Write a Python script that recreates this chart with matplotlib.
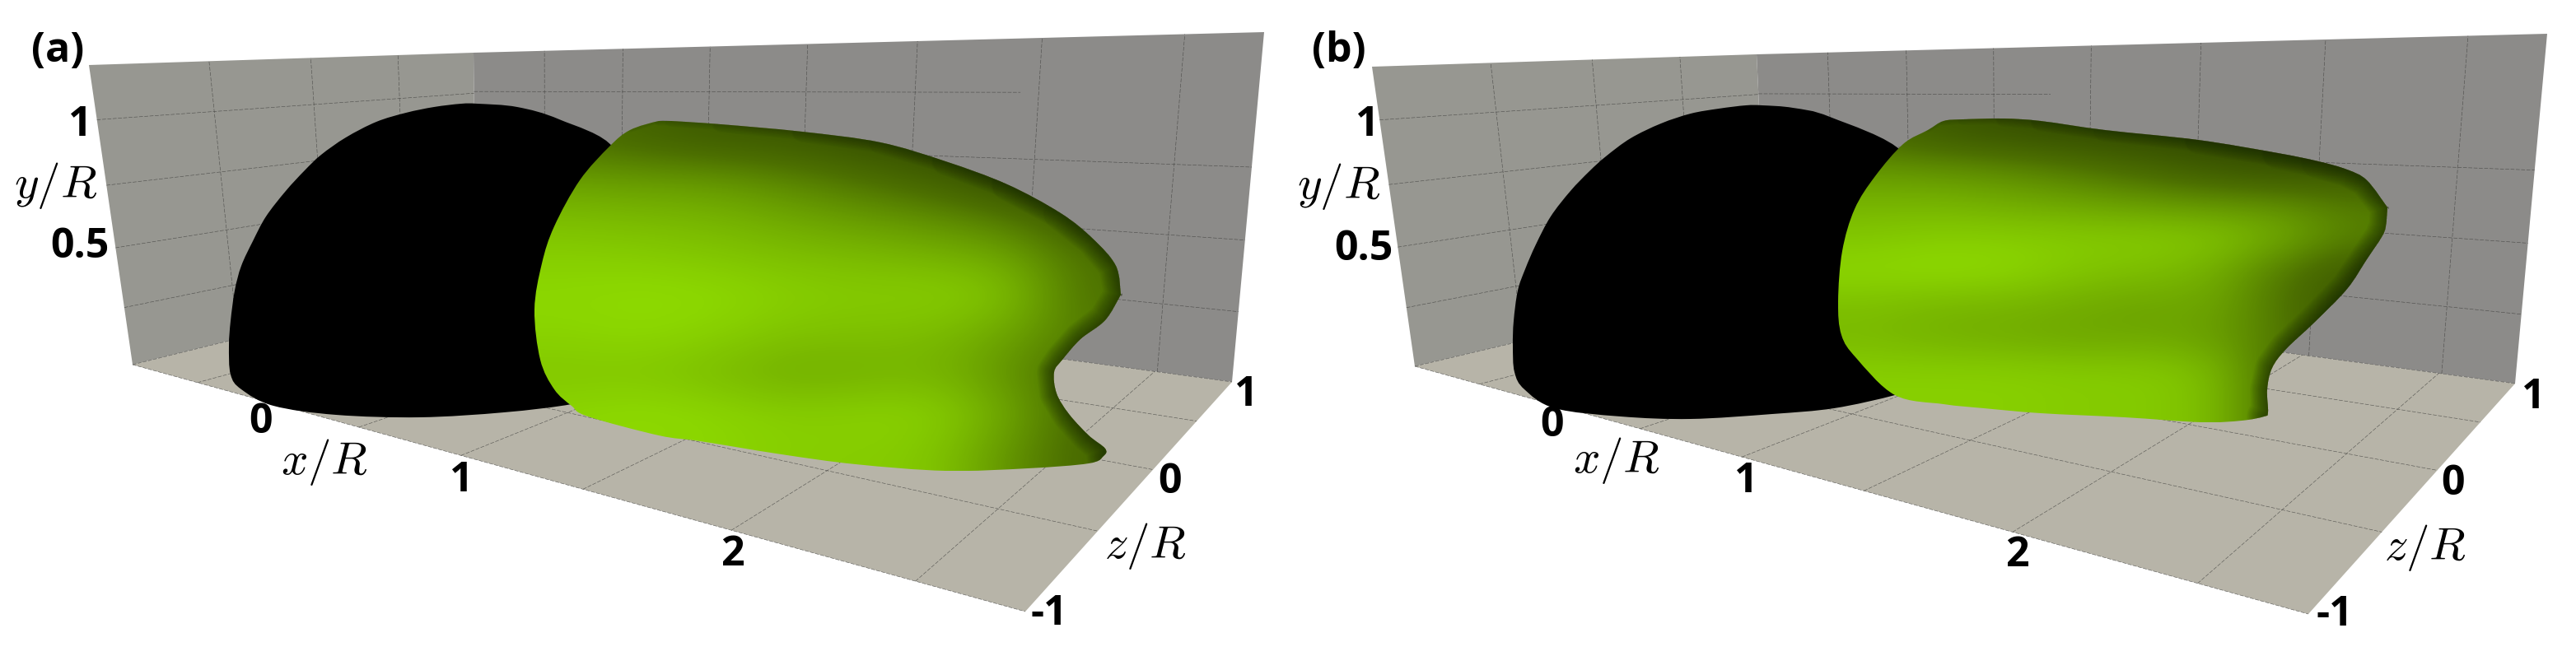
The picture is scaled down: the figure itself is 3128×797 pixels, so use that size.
import matplotlib
matplotlib.use("Agg")
import matplotlib.pyplot as plt
import numpy as np
from matplotlib.colors import LinearSegmentedColormap
from matplotlib.patches import PathPatch, Polygon
from matplotlib.path import Path

plt.rcParams["font.family"] = ["Open Sans", "DejaVu Sans"]
plt.rcParams["mathtext.fontset"] = "cm"

# axis values of the box and of its grid
X_RANGE = [-1.0, 2.75]
Y_RANGE = [0.0, 1.2]
Z_RANGE = [-1.0, 1.0]
X_GRID = [-0.5, 0.0, 0.5, 1.0, 1.5, 2.0, 2.5]
Y_GRID = [0.25, 0.5, 0.75, 1.0]
Z_GRID = [-0.5, 0.0, 0.5]

# box corners in picture pixels: top left, floor left, fold top, fold floor,
# top right, floor right, floor front
BOX_A = [(108, 79), (161, 443), (575, 64), (578, 340), (1535, 39), (1496, 464), (1245, 743)]
BOX_B = [(1666, 81), (1718, 445), (2133, 66), (2146, 344), (3093, 41), (3054, 466), (2803, 746)]
Y1_END = [1.93, 0.8]  # the y=1 line on the back wall stops here

# dome outlines (the right end is hidden behind the surface)
DOME_A_X = [278, 280, 293, 332, 408, 510, 612, 694, 722, 748, 752, 745, 679, 628, 580, 560, 527, 493, 457, 420, 390,
            370, 347, 323, 307, 293, 285, 280]
DOME_A_Y = [420, 455, 473, 493, 504, 507, 501, 491, 480, 400, 250, 180, 145, 130, 126, 126, 130, 137, 148, 167, 188,
            207, 232, 263, 293, 323, 353, 390]
DOME_B_X = [1837, 1839, 1851, 1888, 1968, 2053, 2152, 2227, 2301, 2332, 2315, 2315, 2310, 2222, 2177, 2140, 2120, 2087,
            2053, 2017, 1980, 1950, 1930, 1907, 1883, 1865, 1852, 1843, 1838]
DOME_B_Y = [420, 452, 473, 496, 506, 509, 503, 496, 480, 468, 400, 250, 185, 142, 131, 128, 128, 132,
            138, 150, 168, 190, 208, 232, 263, 297, 327, 353, 390]

# surface outlines
SURF_A_X = [800, 765, 740, 704, 673, 658, 649, 656, 673, 694, 714, 800, 850, 949, 1039, 1148, 1248, 1322, 1340, 1342,
            1322, 1298, 1283, 1280, 1290, 1312, 1342, 1361, 1361, 1355, 1327, 1288, 1223, 1148, 1069, 974, 875, 815]
SURF_A_Y = [147, 158, 178, 219, 275, 320, 376, 437, 473, 493, 506, 529, 536, 552, 564, 572, 569, 563, 554, 545,
            529, 503, 478, 452, 437, 412, 389, 358, 358, 323, 290, 259, 224, 196, 173, 160, 151, 147]
SURF_B_X = [2360, 2341, 2311, 2277, 2252, 2237, 2232, 2236, 2254, 2301, 2360, 2409, 2478, 2580, 2673, 2722, 2749, 2754,
            2753, 2759, 2776, 2811, 2850, 2874, 2892, 2897, 2899, 2899, 2874, 2850, 2815, 2766, 2669, 2556, 2478, 2433, 2384]
SURF_B_Y = [147, 158, 175, 214, 254, 305, 366, 407, 435, 480, 491, 496, 502, 507, 513, 511, 506, 501,
            473, 447, 424, 391, 351, 315, 288, 275, 252, 252, 219, 206, 196, 186, 170, 158, 147, 144, 145]
RIM_START = [18, 16]

# brightness of the surface, rows top to bottom, columns left to right
SHADE_A = [
    [.50, .42, .36, .34, .28, .22, .20, .20],
    [.72, .70, .68, .60, .50, .40, .25, .20],
    [.86, .84, .82, .76, .70, .64, .54, .34],
    [.94, .93, .90, .87, .85, .82, .76, .50],
    [.98, 1.0, .99, .94, .92, .94, .88, .50],
    [.96, .98, .94, .88, .87, .85, .74, .55],
    [.90, .90, .85, .78, .80, .82, .66, .44],
    [.97, 1.0, .97, .93, .95, .95, .76, .44],
    [.97, .97, .97, .93, .93, .90, .66, .44],
]
SHADE_B = [
    [.46, .36, .30, .26, .24, .22, .22, .22],
    [.68, .66, .62, .54, .44, .34, .28, .32],
    [.82, .82, .78, .74, .70, .66, .64, .54],
    [.90, .93, .93, .92, .92, .90, .78, .58],
    [.98, 1.0, .98, .90, .87, .80, .54, .34],
    [.87, .83, .82, .78, .74, .76, .50, .34],
    [.84, .80, .78, .75, .76, .72, .54, .34],
    [.94, .94, .94, .92, .92, .86, .44, .34],
    [.94, .94, .94, .92, .92, .86, .44, .34],
]

# text: label, x, y in picture pixels
TICKS_A = [("1", 97, 152), ("0.5", 97, 300), ("0", 316, 513), ("1", 560, 584), ("2", 889, 674),
           ("1", 1513, 480), ("0", 1421, 586), ("-1", 1274, 746)]
TICKS_B = [("1", 1660, 152), ("0.5", 1656, 303), ("0", 1885, 517), ("1", 2120, 585), ("2", 2449, 675),
           ("1", 3076, 483), ("0", 2978, 588), ("-1", 2835, 747)]
NAMES_A = [("(a)", 70, 62), ("$y/R$", 68, 225), ("$x/R$", 394, 562), ("$z/R$", 1391, 663)]
NAMES_B = [("(b)", 1626, 62), ("$y/R$", 1626, 226), ("$x/R$", 1963, 559), ("$z/R$", 2945, 666)]

GREENS = LinearSegmentedColormap.from_list("surf", ["#1c2800", "#4c6f00", "#8fdc00"])
GRID_KW = dict(color="#3c3c3a", lw=0.42, alpha=0.8, ls=(0, (8, 3)), zorder=3)


def fit_plane(src, dst):
    """Homography from four (u, v) axis points to four picture points."""
    rows, rhs = [], []
    for (u, v), (px, py) in zip(src, dst):
        rows.append([u, v, 1, 0, 0, 0, -u * px, -v * px])
        rows.append([0, 0, 0, u, v, 1, -u * py, -v * py])
        rhs += [px, py]
    return np.append(np.linalg.solve(np.array(rows, float), np.array(rhs, float)), 1).reshape(3, 3)


def project(h, u, v):
    w = h @ np.array([u, v, 1.0])
    return w[0] / w[2], w[1] / w[2]


def grid_line(ax, h, p0, p1):
    a, b = project(h, *p0), project(h, *p1)
    ax.plot([a[0], b[0]], [a[1], b[1]], **GRID_KW)


def smooth_path(xs, ys):
    """Closed cubic outline that passes through every read point."""
    pts = np.column_stack([xs, ys]).astype(float)
    n = len(pts)
    verts, codes = [pts[0]], [Path.MOVETO]
    for i in range(n):
        c1 = pts[i] + (pts[(i + 1) % n] - pts[i - 1]) / 6
        c2 = pts[(i + 1) % n] - (pts[(i + 2) % n] - pts[i]) / 6
        verts += [c1, c2, pts[(i + 1) % n]]
        codes += [Path.CURVE4] * 3
    return Path(verts, codes)


def draw_panel(ax, box, dome_x, dome_y, surf_x, surf_y, shade, rim_start, y1_end, ticks, names):
    tl, fl, ft, ff, tr, fr, front = box
    x0, x1 = X_RANGE
    y0, y1 = Y_RANGE
    z0, z1 = Z_RANGE

    ax.add_patch(Polygon([tl, ft, ff, fl], fc="#979791", ec="none", zorder=1))
    ax.add_patch(Polygon([ft, tr, fr, ff], fc="#8c8b89", ec="none", zorder=1))
    ax.add_patch(Polygon([fl, ff, fr, front], fc="#b7b4a8", ec="none", zorder=2))

    side = fit_plane([(z0, y1), (z0, y0), (z1, y1), (z1, y0)], [tl, fl, ft, ff])
    back = fit_plane([(x0, y1), (x0, y0), (x1, y1), (x1, y0)], [ft, ff, tr, fr])
    floor = fit_plane([(x0, z0), (x0, z1), (x1, z1), (x1, z0)], [fl, ff, fr, front])

    for z in Z_GRID:
        grid_line(ax, side, (z, y0), (z, y1))
        grid_line(ax, floor, (x0, z), (x1, z))
    for y in Y_GRID:
        grid_line(ax, side, (z0, y), (z1, y))
        grid_line(ax, back, (x0, y), (y1_end if y == 1.0 else x1, y))
    for x in X_GRID:
        grid_line(ax, back, (x, y0), (x, y1))
        grid_line(ax, floor, (x, z0), (x, z1))
    grid_line(ax, floor, (x0, z0), (x1, z0))
    grid_line(ax, side, (z0, y0), (z1, y0))
    grid_line(ax, back, (x0, y0), (x1, y0))

    ax.add_patch(PathPatch(smooth_path(dome_x, dome_y), fc="black", ec="none", zorder=4))

    # green surface: coarse shading grid, clipped to the outline, dark rim on top
    outline = PathPatch(smooth_path(surf_x, surf_y), fc="none", ec="none", zorder=5)
    ax.add_patch(outline)
    im = ax.imshow(shade, cmap=GREENS, vmin=0, vmax=1, interpolation="bicubic", aspect="auto",
                   extent=(min(surf_x), max(surf_x), max(surf_y), min(surf_y)), zorder=5)
    im.set_clip_path(outline)
    rim_x = surf_x[rim_start:] + surf_x[:3]
    rim_y = surf_y[rim_start:] + surf_y[:3]
    for lw in np.arange(30, 1, -2):
        # wide strokes stop earlier so the rim fades out instead of ending in a cap
        cut = int(round(lw / 30 * 9))
        line, = ax.plot(rim_x[:len(rim_x) - cut], rim_y[:len(rim_y) - cut], color="#0f1a00",
                        lw=lw, alpha=0.045, zorder=6, solid_joinstyle="round", solid_capstyle="round")
        line.set_clip_path(outline)

    for label, x, y in ticks:
        ax.text(x, y, label, fontsize=36, fontweight="bold", ha="center", va="center", zorder=8)
    for label, x, y in names:
        bold = label.startswith("(")
        ax.text(x, y, label, fontsize=36 if bold else 41, fontweight="bold" if bold else "normal",
                ha="center", va="center", zorder=8)


def main():
    fig = plt.figure(figsize=(31.28, 7.97), dpi=100)
    ax = fig.add_axes([0, 0, 1, 1])
    draw_panel(ax, BOX_A, DOME_A_X, DOME_A_Y, SURF_A_X, SURF_A_Y, SHADE_A, RIM_START[0], Y1_END[0], TICKS_A, NAMES_A)
    draw_panel(ax, BOX_B, DOME_B_X, DOME_B_Y, SURF_B_X, SURF_B_Y, SHADE_B, RIM_START[1], Y1_END[1], TICKS_B, NAMES_B)
    ax.set_xlim(0, 3128)
    ax.set_ylim(797, 0)
    ax.axis("off")
    fig.savefig("out.png", dpi=100)
    plt.close(fig)


if __name__ == "__main__":
    main()
